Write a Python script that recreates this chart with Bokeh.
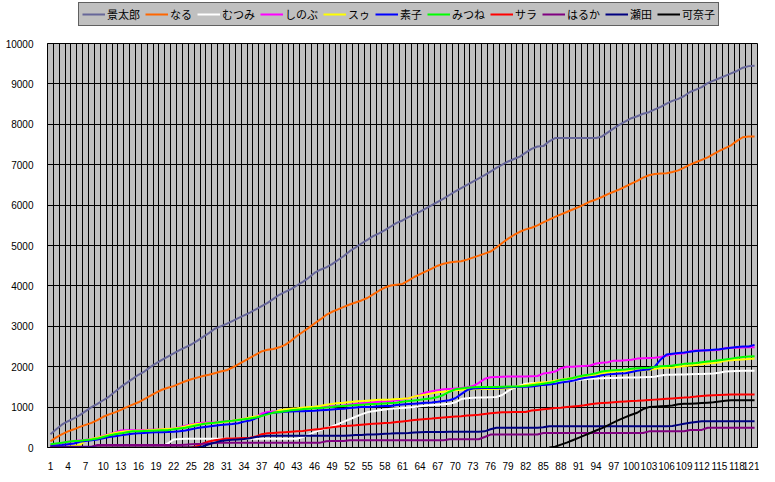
from bokeh.plotting import figure
from bokeh.layouts import column
from bokeh.models import Range1d, FixedTicker, Legend, LegendItem
from bokeh.embed import file_html
from bokeh.resources import INLINE

# ---- data -------------------------------------------------------------
days = list(range(1, 122))            # categories 1..121
x_tick_labels = list(range(1, 122, 3))  # 1, 4, 7, ... 121
y_ticks = [0, 1000, 2000, 3000, 4000, 5000, 6000, 7000, 8000, 9000, 10000]

keitaro = [330, 450, 570, 650, 720, 800, 900, 1000, 1080, 1170,
           1260, 1380, 1500, 1600, 1700, 1800, 1880, 1990, 2080, 2170,
           2250, 2330, 2410, 2480, 2550, 2640, 2740, 2830, 2940, 3000,
           3060, 3130, 3200, 3270, 3340, 3420, 3500, 3580, 3680, 3780,
           3850, 3920, 4010, 4100, 4200, 4320, 4400, 4460, 4540, 4640,
           4740, 4860, 4950, 5050, 5140, 5230, 5300, 5380, 5470, 5560,
           5620, 5700, 5770, 5840, 5920, 6000, 6080, 6160, 6250, 6340,
           6420, 6500, 6580, 6660, 6740, 6830, 6920, 7000, 7080, 7140,
           7200, 7300, 7390, 7450, 7460, 7580, 7660, 7660, 7660, 7660,
           7660, 7660, 7660, 7660, 7700, 7800, 7900, 7990, 8070, 8150,
           8200, 8260, 8300, 8370, 8430, 8510, 8580, 8630, 8700, 8800,
           8860, 8920, 9020, 9080, 9140, 9200, 9260, 9320, 9400, 9440,
           9450]

naru = [150, 250, 330, 400, 450, 510, 560, 610, 680, 760,
        820, 870, 930, 1000, 1060, 1120, 1200, 1280, 1360, 1430,
        1480, 1520, 1580, 1640, 1690, 1730, 1770, 1800, 1840, 1880,
        1910, 1980, 2060, 2140, 2220, 2300, 2380, 2420, 2440, 2480,
        2540, 2640, 2760, 2860, 2960, 3070, 3170, 3280, 3360, 3420,
        3480, 3540, 3590, 3640, 3700, 3790, 3880, 3960, 4010, 4030,
        4050, 4130, 4220, 4290, 4360, 4430, 4500, 4550, 4580, 4600,
        4610, 4650, 4700, 4750, 4800, 4850, 4950, 5060, 5170, 5260,
        5340, 5400, 5440, 5500, 5570, 5640, 5710, 5770, 5830, 5890,
        5950, 6020, 6090, 6140, 6200, 6270, 6330, 6390, 6460, 6530,
        6600, 6680, 6740, 6770, 6780, 6790, 6820, 6860, 6930, 7000,
        7060, 7120, 7180, 7260, 7340, 7410, 7480, 7590, 7680, 7700,
        7700]

mutsumi = [0, 0, 0, 0, 0, 0, 0, 0, 0, 0,
           0, 0, 0, 0, 0, 0, 0, 0, 0, 10,
           100, 200, 210, 215, 215, 215, 215, 215, 215, 215,
           215, 215, 215, 215, 215, 215, 215, 215, 215, 215,
           215, 215, 215, 260, 320, 380, 430, 480, 520, 580,
           640, 700, 760, 820, 870, 900, 920, 940, 960, 970,
           980, 990, 1000, 1020, 1040, 1050, 1060, 1070, 1080, 1120,
           1200, 1220, 1230, 1240, 1240, 1245, 1250, 1300, 1400, 1480,
           1530, 1580, 1590, 1595, 1600, 1610, 1620, 1630, 1640, 1650,
           1670, 1690, 1700, 1710, 1715, 1720, 1720, 1725, 1730, 1730,
           1735, 1740, 1745, 1750, 1780, 1800, 1800, 1805, 1810, 1815,
           1820, 1820, 1825, 1830, 1850, 1880, 1890, 1895, 1900, 1900,
           1900]

shinobu = [60, 80, 110, 140, 160, 175, 190, 210, 240, 290,
           330, 370, 420, 430, 430, 430, 435, 440, 445, 450,
           455, 470, 500, 540, 570, 600, 615, 620, 625, 635,
           650, 660, 680, 710, 730, 760, 840, 880, 890, 895,
           900, 920, 940, 960, 975, 990, 1000, 1010, 1020, 1030,
           1040, 1060, 1080, 1095, 1110, 1120, 1130, 1140, 1150, 1170,
           1190, 1220, 1260, 1310, 1360, 1390, 1420, 1440, 1450, 1460,
           1470, 1490, 1520, 1600, 1700, 1740, 1745, 1750, 1755, 1755,
           1760, 1760, 1765, 1770, 1830, 1850, 1880, 1960, 2000, 2000,
           2010, 2020, 2030, 2080, 2100, 2110, 2150, 2150, 2160, 2170,
           2200, 2210, 2215, 2220, 2240, 2270, 2310, 2320, 2330, 2380,
           2400, 2400, 2405, 2410, 2420, 2460, 2470, 2470, 2475, 2480,
           2480]

sue = [0, 0, 10, 20, 40, 60, 170, 210, 240, 280,
       320, 360, 385, 400, 410, 415, 420, 430, 440, 450,
       460, 470, 490, 520, 560, 580, 590, 600, 610, 620,
       640, 660, 690, 710, 740, 770, 790, 830, 870, 920,
       940, 960, 970, 985, 1000, 1010, 1030, 1060, 1080, 1100,
       1110, 1125, 1140, 1150, 1160, 1170, 1180, 1185, 1190, 1200,
       1205, 1220, 1260, 1290, 1310, 1340, 1370, 1380, 1400, 1420,
       1430, 1435, 1440, 1445, 1450, 1450, 1455, 1460, 1470, 1490,
       1520, 1550, 1570, 1600, 1610, 1620, 1650, 1680, 1700, 1720,
       1740, 1760, 1780, 1800, 1830, 1860, 1880, 1890, 1900, 1900,
       1905, 1910, 1920, 1950, 1970, 1975, 1980, 2000, 2020, 2030,
       2040, 2060, 2080, 2090, 2110, 2150, 2160, 2170, 2180, 2190,
       2200]

motoko = [40, 50, 60, 80, 100, 140, 160, 180, 200, 230,
          260, 280, 300, 320, 340, 350, 360, 370, 375, 380,
          385, 390, 400, 420, 450, 480, 500, 520, 540, 555,
          570, 580, 600, 640, 670, 720, 790, 840, 860, 875,
          885, 890, 895, 900, 905, 910, 920, 930, 940, 950,
          960, 980, 990, 1000, 1005, 1010, 1020, 1025, 1030, 1050,
          1065, 1075, 1085, 1095, 1105, 1115, 1130, 1150, 1170, 1220,
          1320, 1420, 1460, 1465, 1470, 1470, 1475, 1480, 1490, 1495,
          1500, 1505, 1510, 1530, 1550, 1560, 1580, 1610, 1630, 1650,
          1690, 1720, 1740, 1760, 1790, 1810, 1820, 1830, 1840, 1870,
          1900, 1920, 1930, 2000, 2180, 2300, 2320, 2340, 2350, 2370,
          2390, 2400, 2410, 2420, 2430, 2450, 2470, 2490, 2500, 2500,
          2540]

mitsune = [80, 100, 120, 140, 160, 170, 185, 200, 220, 260,
           300, 330, 350, 380, 400, 405, 410, 415, 420, 425,
           430, 450, 470, 490, 520, 550, 580, 600, 610, 630,
           650, 660, 680, 700, 720, 740, 780, 820, 860, 880,
           900, 920, 935, 950, 960, 970, 980, 990, 1000, 1020,
           1030, 1040, 1050, 1060, 1070, 1075, 1080, 1090, 1100, 1110,
           1130, 1150, 1165, 1180, 1200, 1220, 1250, 1300, 1380, 1440,
           1460, 1480, 1490, 1495, 1495, 1500, 1500, 1505, 1510, 1510,
           1510, 1520, 1540, 1560, 1580, 1600, 1630, 1670, 1690, 1720,
           1760, 1790, 1810, 1840, 1880, 1900, 1910, 1920, 1930, 1950,
           1960, 1970, 1975, 1990, 2010, 2020, 2030, 2050, 2070, 2080,
           2090, 2110, 2130, 2140, 2160, 2180, 2200, 2220, 2240, 2250,
           2260]

sara = [0, 0, 0, 0, 0, 0, 0, 0, 0, 0,
        0, 0, 0, 0, 0, 0, 0, 0, 0, 0,
        0, 0, 0, 0, 0, 30, 100, 150, 180, 200,
        220, 225, 230, 235, 240, 270, 330, 350, 360, 370,
        380, 390, 400, 410, 430, 445, 460, 480, 500, 520,
        530, 540, 550, 565, 575, 585, 595, 605, 615, 630,
        645, 660, 680, 695, 705, 715, 730, 745, 755, 765,
        775, 790, 800, 810, 830, 850, 860, 870, 875, 877,
        877, 880, 915, 930, 945, 960, 975, 985, 1000, 1015,
        1030, 1045, 1070, 1090, 1100, 1110, 1120, 1130, 1140, 1148,
        1155, 1165, 1175, 1185, 1195, 1205, 1215, 1225, 1235, 1246,
        1260, 1275, 1287, 1295, 1300, 1305, 1310, 1310, 1310, 1310,
        1310]

haruka = [20, 20, 20, 20, 20, 20, 20, 20, 60, 60,
          60, 60, 60, 60, 60, 60, 60, 60, 60, 60,
          60, 60, 60, 70, 80, 85, 90, 100, 110, 115,
          120, 120, 120, 120, 120, 120, 120, 120, 120, 120,
          120, 120, 120, 120, 120, 120, 120, 155, 160, 160,
          160, 180, 180, 180, 180, 180, 180, 180, 180, 180,
          180, 180, 180, 180, 180, 180, 180, 180, 205, 205,
          205, 205, 205, 205, 260, 320, 320, 320, 320, 320,
          320, 320, 320, 320, 360, 360, 360, 360, 360, 360,
          360, 360, 360, 360, 360, 360, 360, 360, 360, 360,
          360, 360, 400, 400, 400, 400, 400, 400, 400, 435,
          435, 435, 490, 490, 490, 490, 490, 490, 490, 490,
          490]

seta = [0, 0, 0, 0, 0, 0, 0, 0, 0, 0,
        0, 0, 0, 0, 0, 0, 0, 0, 0, 0,
        0, 0, 0, 0, 0, 0, 30, 80, 120, 160,
        180, 190, 200, 210, 230, 260, 280, 290, 290, 290,
        290, 290, 290, 290, 290, 290, 290, 290, 290, 290,
        290, 300, 310, 310, 320, 320, 330, 340, 344, 350,
        355, 360, 370, 380, 385, 385, 385, 385, 390, 390,
        390, 390, 390, 390, 400, 450, 490, 490, 490, 490,
        490, 490, 490, 490, 500, 525, 525, 525, 525, 525,
        525, 525, 525, 525, 525, 525, 525, 525, 525, 525,
        525, 525, 525, 525, 525, 525, 530, 560, 590, 610,
        630, 650, 650, 650, 650, 650, 650, 650, 650, 650,
        650]

# 可奈子 starts at day 86
kanako_days = list(range(86, 122))
kanako = [0, 20, 70, 120, 180, 240, 300, 360, 420, 480,
          550, 620, 690, 750, 810, 860, 950, 1000, 1010, 1020,
          1030, 1040, 1070, 1080, 1080, 1090, 1100, 1110, 1120, 1140,
          1160, 1170, 1170, 1170, 1170, 1170]

names = ["景太郎", "なる", "むつみ", "しのぶ", "スゥ", "素子",
         "みつね", "サラ", "はるか", "瀬田", "可奈子"]
colors = ["#666699", "#FF6600", "#FFFFFF", "#FF00FF", "#FFFF00", "#0000FF",
          "#00FF00", "#FF0000", "#800080", "#000080", "#000000"]
series_x = [days] * 10 + [kanako_days]
series_y = [keitaro, naru, mutsumi, shinobu, sue, motoko,
            mitsune, sara, haruka, seta, kanako]

W = 759
FONT = "Liberation Sans"

# ---- legend strip (top) -------------------------------------------------
# Same series are drawn here too, but the ranges keep them out of view; only
# the legend of this strip is visible.
leg_fig = figure(width=W, height=28, output_backend="svg", toolbar_location=None,
                 x_range=Range1d(-2, -1), y_range=Range1d(-2, -1),
                 x_axis_location=None, y_axis_location=None,
                 min_border_left=47, min_border_right=2,
                 min_border_top=0, min_border_bottom=0,
                 outline_line_color=None, background_fill_color="white",
                 border_fill_color="white")
leg_fig.xgrid.visible = False
leg_fig.ygrid.visible = False

leg_items = []
for name, col, xs, ys in zip(names, colors, series_x, series_y):
    r = leg_fig.line(xs, ys, line_color=col, line_width=2)
    leg_items.append(LegendItem(label=name, renderers=[r]))

legend = Legend(items=leg_items, orientation="horizontal", location=(31, 2),
                background_fill_color="#C0C0C0", background_fill_alpha=1,
                border_line_color="black", border_line_width=1,
                label_text_font="Noto Sans CJK JP", label_text_font_size="11px",
                label_text_color="black",
                glyph_width=23, glyph_height=12, label_height=12,
                label_standoff=2, spacing=5, padding=3, margin=0)
leg_fig.add_layout(legend)

# ---- main chart -----------------------------------------------------------
p = figure(width=W, height=444, output_backend="svg", toolbar_location=None,
           x_range=Range1d(0.5, 121.5), y_range=Range1d(0, 10000),
           min_border_left=47, min_border_right=2,
           min_border_top=15, min_border_bottom=23,
           background_fill_color="#C0C0C0", border_fill_color="white",
           outline_line_color="black", outline_line_width=1)

p.xaxis.ticker = FixedTicker(ticks=x_tick_labels)
p.yaxis.ticker = FixedTicker(ticks=y_ticks)
for ax in (p.xaxis, p.yaxis):
    ax.major_tick_line_color = None
    ax.minor_tick_line_color = None
    ax.axis_line_color = "black"
    ax.major_label_text_font = FONT
    ax.major_label_text_font_size = "10px"
    ax.major_label_text_color = "black"
p.xaxis.major_label_standoff = 8
p.yaxis.major_label_standoff = 8

p.xgrid.ticker = FixedTicker(ticks=[d + 0.5 for d in days[:-1]])
p.ygrid.ticker = FixedTicker(ticks=y_ticks)
for g in (p.xgrid, p.ygrid):
    g.grid_line_color = "black"
    g.grid_line_width = 1
    g.grid_line_alpha = 1

for name, col, xs, ys in zip(names, colors, series_x, series_y):
    p.line(xs, ys, line_color=col, line_width=2)

layout = column(leg_fig, p, spacing=0)
open("out.html", "w").write(file_html(layout, INLINE))
